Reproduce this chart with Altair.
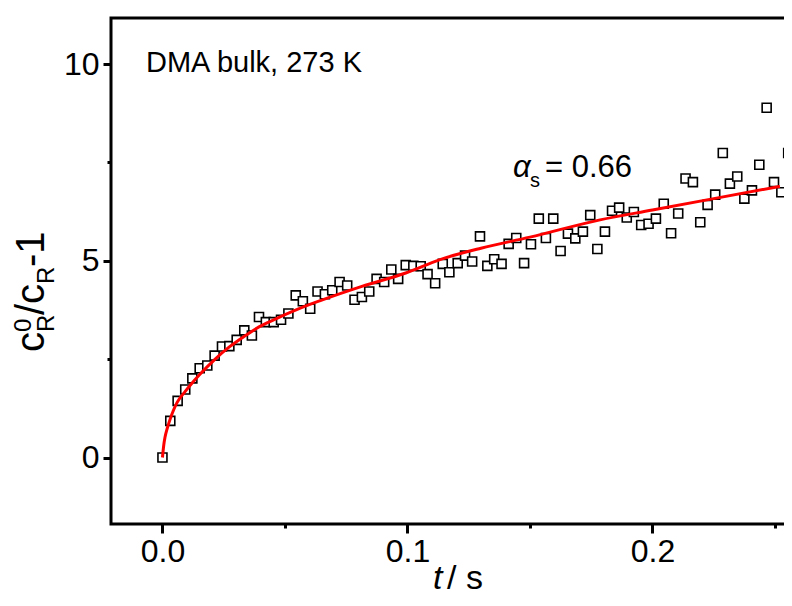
import altair as alt
import pandas as pd

# ---- data ----
t_data = [0, 0.0032, 0.0062, 0.0093, 0.0122, 0.0152, 0.0183, 0.0213, 0.0243, 0.0273,
          0.0303, 0.0334, 0.0365, 0.0394, 0.0422, 0.0454, 0.0484, 0.0514, 0.0544,
          0.0573, 0.0603, 0.0633, 0.0663, 0.0693, 0.0723, 0.0754, 0.0784, 0.0814, 0.0844,
          0.0874, 0.0905, 0.0934, 0.0962, 0.0993, 0.1024, 0.1054, 0.1082, 0.1113, 0.1144, 0.1171,
          0.1205, 0.1235, 0.1264, 0.1296, 0.1326, 0.1354, 0.1384, 0.1413, 0.1444, 0.1476,
          0.1504, 0.1536, 0.1565, 0.1595, 0.1625, 0.1655, 0.1685, 0.1716, 0.1746, 0.1775, 0.1806,
          0.1835, 0.1864, 0.1895, 0.1924, 0.1954, 0.1984, 0.2014, 0.2046, 0.2076, 0.2105,
          0.2135, 0.2165, 0.2195, 0.2225, 0.2256, 0.2287, 0.2316, 0.2346, 0.2375, 0.2406,
          0.2436, 0.2466, 0.2496, 0.2526, 0.2554, 0.2584]
y_data = [0, 0.93, 1.44, 1.73, 2.01, 2.27, 2.34, 2.59, 2.82, 2.83,
          2.99, 3.23, 3.10, 3.57, 3.44, 3.44, 3.50, 3.66, 4.12,
          3.97, 3.78, 4.22, 4.15, 4.25, 4.46, 4.37, 4.01, 4.08, 4.22,
          4.54, 4.46, 4.78, 4.54, 4.89, 4.87, 4.86, 4.66, 4.43, 4.92, 4.71,
          4.94, 5.13, 4.98, 5.62, 4.87, 5.04, 4.92, 5.43, 5.58, 4.94,
          5.42, 6.07, 5.58, 6.07, 5.25, 5.69, 5.57, 5.74, 6.16, 5.30, 5.74,
          6.27, 6.35, 6.10, 6.24, 5.91, 5.94, 6.07, 6.45, 5.70, 6.20,
          7.09, 7.00, 5.98, 6.42, 6.68, 7.74, 6.96, 7.14, 6.58, 6.79,
          7.44, 8.89, 7.00, 6.74, 7.74, 6.42]

t_fit = [0, 0.0005, 0.001, 0.002, 0.003, 0.0045, 0.006, 0.0093, 0.0122, 0.0152, 0.0213,
         0.0273, 0.0334, 0.0394, 0.0454, 0.0548, 0.065, 0.0814, 0.0993, 0.1133, 0.13,
         0.15, 0.1786, 0.2, 0.225, 0.252]
y_fit = [0, 0.30, 0.50, 0.75, 0.95, 1.20, 1.40, 1.68, 1.90, 2.11, 2.49,
         2.81, 3.08, 3.32, 3.50, 3.76, 4.00, 4.35, 4.69, 5.03, 5.32,
         5.60, 6.04, 6.29, 6.58, 6.89]

x_ticks = [0, 0.05, 0.1, 0.15, 0.2, 0.25]
y_ticks = [0, 2.5, 5, 7.5, 10]

FONT = "Liberation Sans"
LBL = 32
TTL = 34
YT = 40
SUB = 24

df = pd.DataFrame({"t": t_data, "y": y_data})
fit = pd.DataFrame({"t": t_fit, "y": y_fit})

xscale = alt.Scale(domain=[-0.021, 0.2647], nice=False, zero=False)
yscale = alt.Scale(domain=[-1.69, 11.17], nice=False, zero=False)

xaxis = alt.Axis(values=x_ticks, title=None, domain=False, grid=False,
                 tickColor="black", tickWidth=3,
                 tickSize={"condition": {"test": "round(datum.value*20) % 2 == 0", "value": 9}, "value": 4},
                 labelExpr="round(datum.value*20) % 2 == 0 ? format(datum.value, '.1f') : ''",
                 labelFont=FONT, labelFontSize=LBL, labelColor="black", labelPadding=3,
                 labelOverlap=False, labelFlush=False)
yaxis = alt.Axis(values=y_ticks, title=None, domain=False, grid=False,
                 tickColor="black", tickWidth=3,
                 tickSize={"condition": {"test": "round(datum.value*2) % 2 == 0", "value": 8}, "value": 4},
                 labelExpr="round(datum.value*2) % 2 == 0 ? format(datum.value, 'd') : ''",
                 labelFont=FONT, labelFontSize=LBL, labelColor="black", labelPadding=4,
                 labelOverlap=False, labelFlush=False)

X = alt.X("t:Q", scale=xscale, axis=xaxis)
Y = alt.Y("y:Q", scale=yscale, axis=yaxis)

points = alt.Chart(df).mark_square(size=81, fill="white", stroke="black",
                                   strokeWidth=1.6, opacity=1).encode(x=X, y=Y)
line = alt.Chart(fit).mark_line(color="#ff0000", strokeWidth=3,
                                interpolate="monotone").encode(x=X, y=Y)

one = alt.Data(values=[{"a": 0}])


def txt(s, x, y, size, style="normal", angle=0):
    return alt.Chart(one).mark_text(text=s, font=FONT, fontSize=size, fontStyle=style,
                                    align="left", baseline="alphabetic", angle=angle,
                                    color="black").encode(x=alt.value(x), y=alt.value(y))


texts = [
    txt("DMA bulk, 273 K", 35, 54, 29),
    txt("\u03b1", 402, 159, 31, "italic"),
    txt("s", 419, 169, 20),
    txt("= 0.66", 434, 159, 31),
    # x title
    txt("t", 322, 571, TTL, "italic"),
    txt("/ s", 336, 571, TTL),
    # y title (rotated)
    txt("c", -67, 334, YT, angle=270),
    txt("0", -80, 314, SUB, angle=270),
    txt("R", -57, 314, SUB, angle=270),
    txt("/c", -67, 297, YT, angle=270),
    txt("R", -57, 266, SUB, angle=270),
    txt("-1", -67, 249, YT, angle=270),
]

chart = alt.layer(points, line, *texts).properties(
    width=700, height=506,
    autosize=alt.AutoSizeParams(type="none"),
    padding={"left": 103, "top": 10, "right": -27, "bottom": 73},
    background="white",
).configure_view(stroke="black", strokeWidth=3)

chart.save("out.html", embed_options={"renderer": "svg", "actions": False})
